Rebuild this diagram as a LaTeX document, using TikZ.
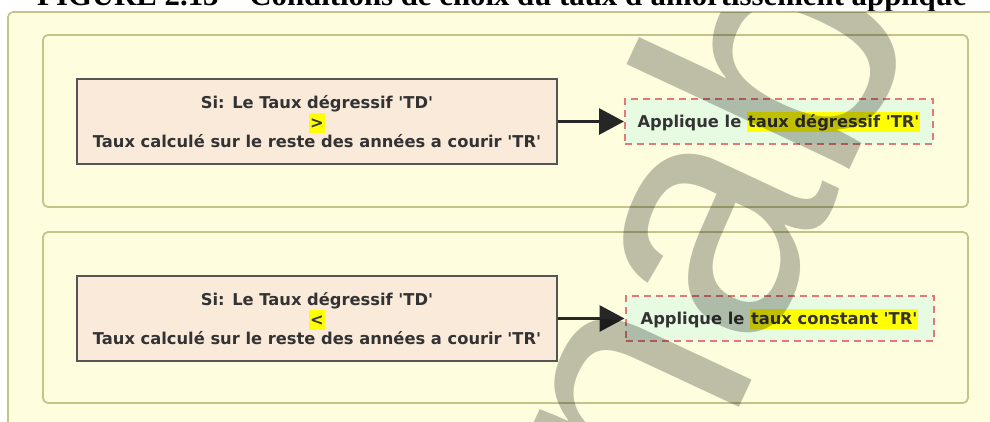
\documentclass[tikz,border=0pt]{standalone}
\usepackage{fontspec}
\setmainfont{DejaVu Sans}[Ligatures=TeXOff]
\newfontfamily\titlefont{Liberation Serif}
\newfontfamily\markfont{Liberation Sans}
\usetikzlibrary{arrows.meta}

\definecolor{pagefill}{RGB}{254,254,223}
\definecolor{panelline}{RGB}{196,196,138}
\definecolor{condfill}{RGB}{249,234,218}
\definecolor{condline}{RGB}{85,85,85}
\definecolor{actfill}{RGB}{230,251,226}
\definecolor{actline}{RGB}{226,120,120}
\definecolor{inktext}{RGB}{51,51,51}
\definecolor{hly}{RGB}{255,255,0}

% yellow marker behind a piece of text
\newcommand\hlmark[1]{{\setlength{\fboxsep}{0pt}\colorbox{hly}{\rule[-4.5pt]{0pt}{20pt}\hspace{1pt}#1\hspace{1pt}}}}

\begin{document}
\begin{tikzpicture}[x=1pt,y=-1pt,
  outerpanel/.style={draw=panelline, line width=1.6pt, fill=pagefill, rounded corners=5pt},
  panel/.style={draw=panelline, line width=1.8pt, fill=pagefill, rounded corners=5pt},
  boxfont/.style={font=\fontsize{16.3}{19}\selectfont\bfseries, text=inktext},
  condbox/.style={boxfont, draw=condline, line width=1.6pt, fill=condfill,
    minimum width=480pt, minimum height=85pt, align=center, inner sep=0pt},
  actbox/.style={boxfont, draw=actline, line width=2pt, dash pattern=on 7pt off 5pt,
    fill=actfill, minimum width=308pt, minimum height=45pt, inner sep=0pt},
  flow/.style={draw=black!85, line width=3pt, -{Triangle[length=25pt,width=26pt]}}]
\useasboundingbox (0,0) rectangle (990,421);
\clip (0,0) rectangle (990,421);

% caption line, only its lower part shows
\node[anchor=base west, inner sep=0pt, font=\titlefont\bfseries\fontsize{30.8}{32}\selectfont]
  (caption) at (37,5) {FIGURE 2.13 – Conditions de choix du taux d'amortissement appliqué};

% background panel and the two rule panels
\draw[outerpanel] (8,12) rectangle (1010,440);
\draw[panel] (43,35) rectangle (968,207);
\draw[panel] (43,232) rectangle (968,403);

% first rule
\node[condbox] (c1) at (317,121.5)
  {Si: Le Taux dégressif 'TD'\\ \hlmark{>}\\ Taux calculé sur le reste des années a courir 'TR'};
\node[actbox] (a1) at (779,121.5) {Applique le \hlmark{taux dégressif 'TR'}};
\draw[flow] (c1.east) -- (a1.west);

% second rule
\node[condbox] (c2) at (317,318.5)
  {Si: Le Taux dégressif 'TD'\\ \hlmark{<}\\ Taux calculé sur le reste des années a courir 'TR'};
\node[actbox] (a2) at (779.5,318.5) {Applique le \hlmark{taux constant 'TR'}};
\draw[flow] (c2.east) -- (a2.west);

% grey watermark lettering across the panels
\begin{scope}
  \clip (8,12) rectangle (990,421);
  \node[anchor=base west, inner sep=0pt, rotate=65, text=black, text opacity=0.25,
    font=\markfont\fontsize{340}{340}\selectfont] (wm) at (681,532) {nab};
\end{scope}
\end{tikzpicture}
\end{document}
